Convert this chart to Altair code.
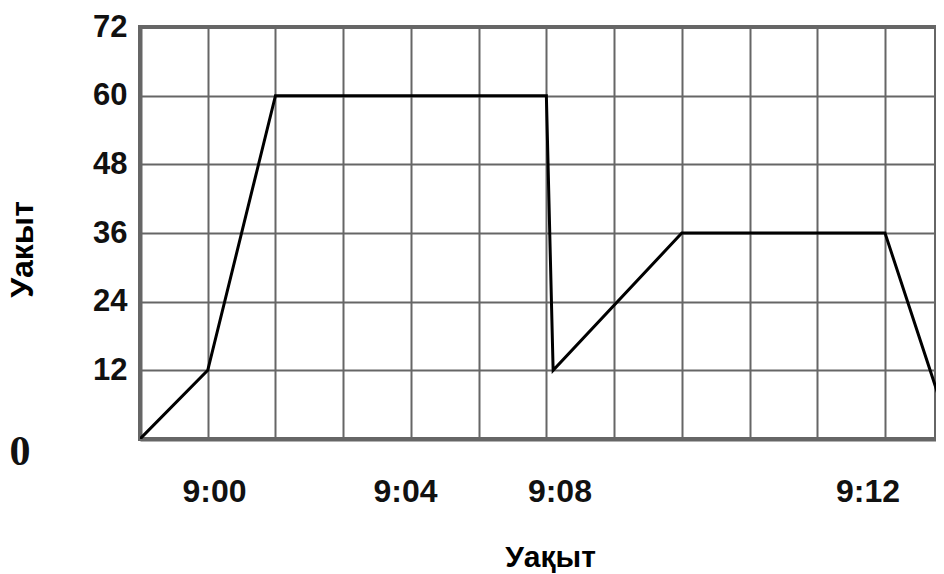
import altair as alt
import pandas as pd

# data
minutes = [0, 1, 2, 6, 6.1, 8, 11, 12]
values = [0, 12, 60, 60, 12, 36, 36, 0]
tick_labels = ["9:00", "9:04", "9:08", "9:12"]
tick_label_x = [1.1, 3.92, 6.2, 10.75]
y_ticks = [12, 24, 36, 48, 60, 72]
x_grid = list(range(0, 13))
zero_label = ["0"]

df = pd.DataFrame({"t": minutes, "v": values})
lab = pd.DataFrame({"t": tick_label_x, "label": tick_labels})
zdf = pd.DataFrame({"label": zero_label})

FONT = "Liberation Sans"
xscale = alt.Scale(domain=[0, 11.753], nice=False, zero=False)
yscale = alt.Scale(domain=[0, 72], nice=False)

line = alt.Chart(df).mark_line(color="black", strokeWidth=3, clip=True).encode(
    x=alt.X("t:Q", scale=xscale,
            axis=alt.Axis(values=x_grid, labels=False, ticks=False, grid=True,
                          title="Уақыт", titleX=410, titleY=127,
                          titleAlign="center", titleBaseline="alphabetic",
                          titleFontSize=30, titleFont=FONT, titleFontWeight="bold",
                          titleColor="black")),
    y=alt.Y("v:Q", scale=yscale,
            axis=alt.Axis(values=y_ticks, ticks=False, grid=True,
                          labelFontSize=31, labelFont=FONT, labelFontWeight="bold",
                          labelColor="#111", labelPadding=13,
                          title="Уакыт", titleX=-108, titleY=222, titleAngle=-90,
                          titleAlign="center", titleBaseline="alphabetic",
                          titleFontSize=32, titleFont=FONT, titleFontWeight="bold",
                          titleColor="black")),
)

xlabels = alt.Chart(lab).mark_text(
    font=FONT, fontSize=32, fontWeight="bold", color="#111", baseline="middle", align="center"
).encode(
    x=alt.X("t:Q", scale=xscale),
    y=alt.value(465),
    text="label:N",
)

zero = alt.Chart(zdf).mark_text(
    font="Liberation Serif", fontSize=42, fontWeight="bold", color="#111",
    baseline="middle", align="center"
).encode(
    x=alt.value(-120),
    y=alt.value(425),
    text="label:N",
)

chart = alt.layer(line, xlabels, zero).properties(
    width=796, height=412,
    autosize=alt.AutoSizeParams(type="none"),
    padding={"left": 132, "top": 19, "right": 0, "bottom": 135},
).configure_view(
    stroke="#666", strokeWidth=4
).configure_axis(
    domainColor="#666", domainWidth=4, gridColor="#666", gridWidth=2, gridOpacity=1
)

chart.save("out.html", embed_options={"renderer": "svg", "actions": False})
